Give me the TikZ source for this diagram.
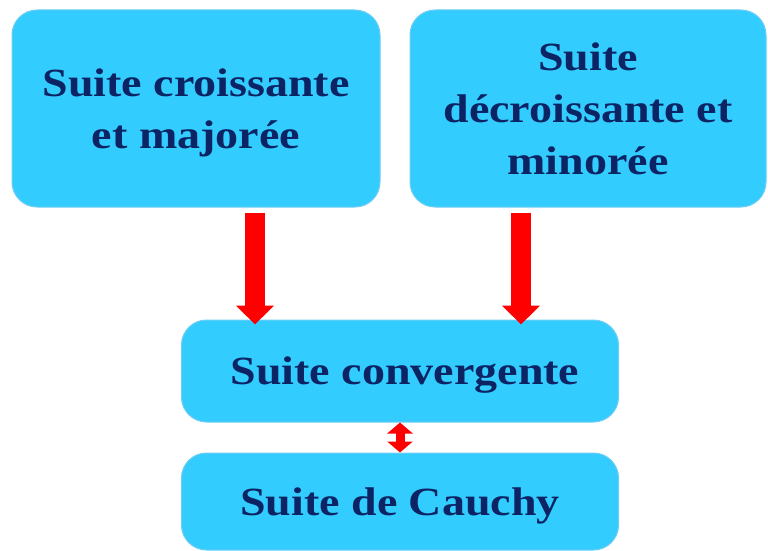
\documentclass[tikz,border=0pt]{standalone}
\usepackage{fontspec}
\setmainfont{Liberation Serif}[FakeStretch=1.15]
\usetikzlibrary{arrows.meta}
\definecolor{bleuboite}{RGB}{51,204,255}
\definecolor{bordboite}{RGB}{110,205,245}
\definecolor{bleutexte}{RGB}{12,36,100}
\tikzset{
  boite/.style={rounded corners=25pt, fill=bleuboite, draw=bordboite, line width=1pt,
    align=center, text=bleutexte, font=\fontsize{40}{52}\selectfont\bfseries, inner sep=0pt},
  fleche/.style={red, line width=20pt, -{Triangle[width=37pt,length=19pt]}},
  double fleche/.style={red, line width=9pt, {Triangle[width=25pt,length=11pt]}-{Triangle[width=25pt,length=11pt]}}
}
\begin{document}
\begin{tikzpicture}[x=1pt,y=-1pt]
\useasboundingbox (0,0) rectangle (768,551);

% Suite croissante et majoree
\node[boite, minimum width=368pt, minimum height=197pt, text depth=-4pt] (croiss) at (196,108.5) {Suite croissante\\et majorée};

% Suite decroissante et minoree
\node[boite, minimum width=356pt, minimum height=197pt, text depth=-4pt] (decroiss) at (588,108.5) {Suite\\décroissante et\\minorée};

% Suite convergente
\node[boite, minimum width=437pt, minimum height=102pt, text depth=-2pt] (conv) at (400,371) {\hspace{10pt}Suite convergente};

% Suite de Cauchy
\node[boite, minimum width=437pt, minimum height=97pt, text depth=-9pt] (cauchy) at (400,501.5) {Suite de Cauchy};

% Fleches vers la suite convergente
\draw[fleche] ([xshift=59pt,yshift=-5pt]croiss.south) -- ([xshift=59pt,yshift=-5pt]croiss.south |- conv.north);
\draw[fleche] ([xshift=-67pt,yshift=-5pt]decroiss.south) -- ([xshift=-67pt,yshift=-5pt]decroiss.south |- conv.north);

% Equivalence
\draw[double fleche] (conv.south) -- (cauchy.north);

\end{tikzpicture}
\end{document}
